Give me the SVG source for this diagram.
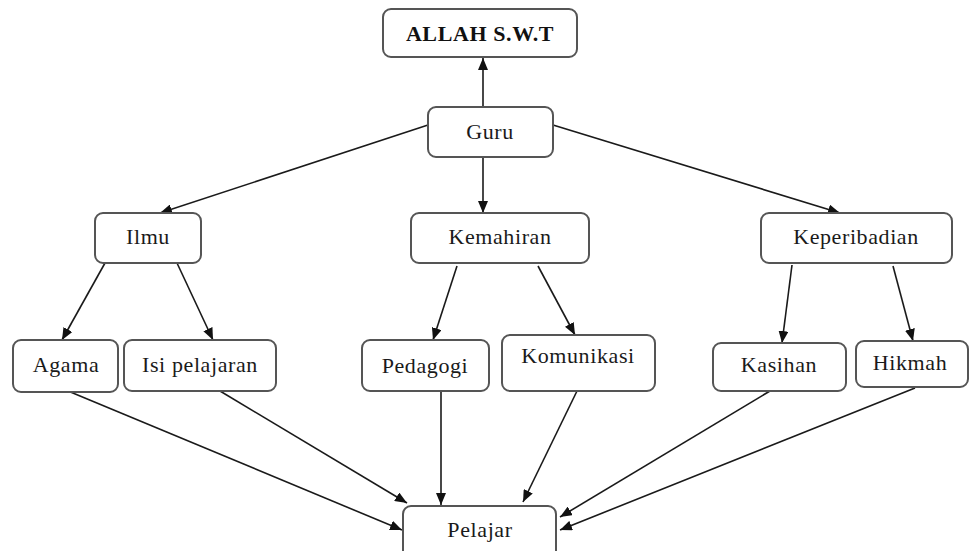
<svg xmlns="http://www.w3.org/2000/svg" width="969" height="551" viewBox="0 0 969 551">
<defs>
<marker id="ah" viewBox="0 0 12 10" refX="12" refY="5" markerWidth="12" markerHeight="10" markerUnits="userSpaceOnUse" orient="auto">
<path d="M0,0 L12,5 L0,10 z" fill="#111"/>
</marker>
</defs>
<style>
.box{fill:#fff;stroke:#555;stroke-width:2}
.t{font-family:"Liberation Serif","Times New Roman",serif;font-size:22px;fill:#1a1a1a;text-anchor:middle;letter-spacing:0.6px}
.b{font-weight:bold;fill:#111}
.c{stroke:#1a1a1a;stroke-width:1.6;fill:none;marker-end:url(#ah)}
</style>
<rect width="969" height="551" fill="#fff"/>
<g id="connectors">
<line class="c" x1="483" y1="107" x2="483" y2="58"/>
<line class="c" x1="428" y1="125" x2="160" y2="213"/>
<line class="c" x1="483" y1="157" x2="483" y2="213"/>
<line class="c" x1="553" y1="125" x2="840" y2="213"/>
<line class="c" x1="105" y1="263" x2="62" y2="340"/>
<line class="c" x1="177" y1="263" x2="213" y2="340"/>
<line class="c" x1="457" y1="266" x2="433" y2="340"/>
<line class="c" x1="538" y1="266" x2="575" y2="335"/>
<line class="c" x1="792" y1="265" x2="782" y2="343"/>
<line class="c" x1="893" y1="266" x2="913" y2="341"/>
<line class="c" x1="68" y1="391" x2="402" y2="530"/>
<line class="c" x1="220" y1="391" x2="407" y2="503"/>
<line class="c" x1="441" y1="391" x2="441" y2="505"/>
<line class="c" x1="577" y1="391" x2="523" y2="502"/>
<line class="c" x1="770" y1="391" x2="560" y2="517"/>
<line class="c" x1="915" y1="388" x2="560" y2="530"/>
</g>
<g id="allah"><rect class="box" x="383" y="9" width="194" height="48" rx="8"/><text class="t b" x="480" y="41">ALLAH S.W.T</text></g>
<g id="guru"><rect class="box" x="428" y="107" width="125" height="50" rx="8"/><text class="t" x="490" y="139">Guru</text></g>
<g id="ilmu"><rect class="box" x="95" y="213" width="106" height="50" rx="8"/><text class="t" x="148" y="244">Ilmu</text></g>
<g id="kemahiran"><rect class="box" x="411" y="213" width="178" height="50" rx="8"/><text class="t" x="500" y="244">Kemahiran</text></g>
<g id="keperibadian"><rect class="box" x="761" y="213" width="191" height="50" rx="8"/><text class="t" x="856" y="244">Keperibadian</text></g>
<g id="agama"><rect class="box" x="13" y="340" width="105" height="52" rx="8"/><text class="t" x="66" y="372">Agama</text></g>
<g id="isi"><rect class="box" x="124" y="340" width="152" height="51" rx="8"/><text class="t" x="200" y="372">Isi pelajaran</text></g>
<g id="pedagogi"><rect class="box" x="362" y="340" width="127" height="51" rx="8"/><text class="t" x="425" y="373">Pedagogi</text></g>
<g id="komunikasi"><rect class="box" x="502" y="335" width="153" height="56" rx="8"/><text class="t" x="578" y="363">Komunikasi</text></g>
<g id="kasihan"><rect class="box" x="713" y="343" width="133" height="48" rx="8"/><text class="t" x="779" y="372">Kasihan</text></g>
<g id="hikmah"><rect class="box" x="856" y="341" width="112" height="46" rx="8"/><text class="t" x="910" y="370">Hikmah</text></g>
<g id="pelajar"><rect class="box" x="403" y="506" width="153" height="56" rx="8"/><text class="t" x="480" y="537">Pelajar</text></g>
</svg>
